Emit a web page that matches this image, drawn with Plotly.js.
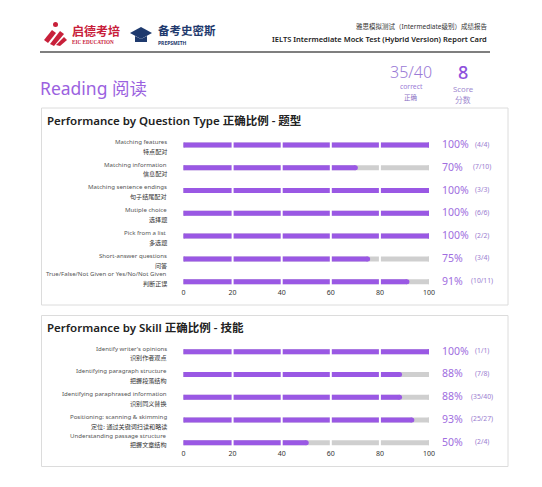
<!DOCTYPE html>
<html>
<head>
<meta charset="utf-8">
<script src="https://cdn.plot.ly/plotly-3.0.1.min.js"></script>
<style>
  html, body { margin: 0; padding: 0; background: #ffffff; }
  #chart { width: 542px; height: 487px; }
</style>
</head>
<body>
<div id="chart"></div>
<script>
// ---------------- DATA ----------------
const typeNamesEn = ["Matching features", "Matching information", "Matching sentence endings", "Mutiple choice", "Pick from a list", "Short-answer questions", "True/False/Not Given or Yes/No/Not Given"];
const typeNamesZh = ["特点配对", "信息配对", "句子结尾配对", "选择题", "多选题", "问答", "判断正误"];
const typePct = [100, 70, 100, 100, 100, 75, 91];
const typeCounts = ["(4/4)", "(7/10)", "(3/3)", "(6/6)", "(2/2)", "(3/4)", "(10/11)"];

const skillNamesEn = ["Identify writer's opinions", "Identifying paragraph structure", "Identifying paraphrased information", "Positioning: scanning & skimming", "Understanding passage structure"];
const skillNamesZh = ["识别作者观点", "把握段落结构", "识别同义替换", "定位: 通过关键词扫读和略读", "把握文章结构"];
const skillPct = [100, 88, 88, 93, 50];
const skillCounts = ["(1/1)", "(7/8)", "(35/40)", "(25/27)", "(2/4)"];

const xTicks = [0, 20, 40, 60, 80, 100];
const dividerTicks = [20, 40, 60, 80];
const correctText = "35/40";
const scoreText = "8";

// ---------------- LAYOUT HELPERS ----------------
const W = 542, H = 487;
const px = x => x / W;
const py = y => 1 - y / H;

const PURPLE = "#9a58e4";
const GRAY = "#cfcfcf";
const PCT_COLOR = "#a06ee0";
const CNT_COLOR = "#9a7dcf";
const FONT = "Noto Sans, Noto Sans CJK SC, sans-serif";

const xDomain = [px(183.5), px(429)];

function panel(idx, namesEn, namesZh, pct, counts, firstRowPx, rowStep, domTopPx, domBotPx) {
  const ya = idx === 1 ? "y" : "y" + idx;
  const xa = idx === 1 ? "x" : "x" + idx;
  const n = namesEn.length;
  const gx = [], gy = [], vx = [], vy = [];
  const cats = namesEn;
  for (let i = 0; i < n; i++) {
    gx.push(0, 100, null); gy.push(cats[i], cats[i], null);
    vx.push(0, pct[i], null); vy.push(cats[i], cats[i], null);
  }
  const traces = [
    { type: "scatter", mode: "lines+markers", x: gx, y: gy, xaxis: xa, yaxis: ya,
      line: { color: GRAY, width: 5 }, marker: { color: GRAY, size: 5 }, hoverinfo: "skip", showlegend: false },
    { type: "scatter", mode: "lines+markers", x: vx, y: vy, xaxis: xa, yaxis: ya,
      line: { color: PURPLE, width: 5 }, marker: { color: PURPLE, size: 5 }, hoverinfo: "skip", showlegend: false }
  ];
  const yBot = (n - 1) + (domBotPx - (firstRowPx + (n - 1) * rowStep)) / rowStep;
  const yTop = (domTopPx - firstRowPx) / rowStep;
  const yaxis = {
    domain: [py(domBotPx), py(domTopPx)], range: [yBot, yTop], type: "category",
    categoryarray: cats, categoryorder: "array",
    showticklabels: false, showgrid: false, zeroline: false, showline: false, anchor: xa, fixedrange: true
  };
  const xaxis = {
    domain: xDomain, range: [0, 100], tickvals: xTicks, ticktext: xTicks.map(String),
    showgrid: false, zeroline: false, showline: false, ticks: "", anchor: ya,
    tickfont: { size: 7, color: "#333", family: FONT }, fixedrange: true
  };
  const annotations = [];
  for (let i = 0; i < n; i++) {
    const last = i === n - 1;
    annotations.push({ xref: "paper", yref: ya, x: px(169), y: cats[i], xanchor: "right", yanchor: "middle",
      yshift: last ? 7.7 : 3.6, text: namesEn[i], showarrow: false, font: { size: 6.1, color: "#555", family: FONT } });
    annotations.push({ xref: "paper", yref: ya, x: px(169), y: cats[i], xanchor: "right", yanchor: "middle",
      yshift: last ? -2 : -6.2, text: namesZh[i], showarrow: false, font: { size: 6.1, color: "#333", family: FONT } });
    annotations.push({ xref: "paper", yref: ya, x: px(440), y: cats[i], xanchor: "left", yanchor: "middle",
      yshift: 1, text: pct[i] + "%", showarrow: false, font: { size: 10.5, color: PCT_COLOR, family: FONT } });
    annotations.push({ xref: "paper", yref: ya, x: px(482), y: cats[i], xanchor: "center", yanchor: "middle",
      yshift: 1, text: counts[i], showarrow: false, font: { size: 6.8, color: CNT_COLOR, family: FONT } });
  }
  const shapes = dividerTicks.map(t => ({
    type: "line", xref: xa, yref: "paper", x0: t, x1: t, y0: py(domBotPx), y1: py(domTopPx),
    line: { color: "#ffffff", width: 2 }, layer: "above"
  }));
  return { traces, xaxis, yaxis, annotations, shapes };
}

const p1 = panel(1, typeNamesEn, typeNamesZh, typePct, typeCounts, 145, 22.78, 133, 286.5);
const p2 = panel(2, skillNamesEn, skillNamesZh, skillPct, skillCounts, 351.7, 22.75, 340, 448);

// ---------------- STATIC PAGE DECOR ----------------
const decoShapes = [
  { type: "line", xref: "paper", yref: "paper", x0: px(40), x1: px(490), y0: py(52), y1: py(52), line: { color: "#555", width: 1.5 }, layer: "below" },
  { type: "rect", xref: "paper", yref: "paper", x0: px(41.5), x1: px(508), y0: py(305), y1: py(108), line: { color: "#dcdcdc", width: 1 }, layer: "below" },
  { type: "rect", xref: "paper", yref: "paper", x0: px(41.5), x1: px(508), y0: py(466.5), y1: py(315.5), line: { color: "#dcdcdc", width: 1 }, layer: "below" },
  { type: "path", xref: "paper", yref: "paper", path: `M ${px(44)} ${py(40)} L ${px(52)} ${py(30)} L ${px(56)} ${py(33)} L ${px(48)} ${py(43)} Z`, fillcolor: "#c8203a", line: { width: 0 } },
  { type: "path", xref: "paper", yref: "paper", path: `M ${px(50)} ${py(44)} L ${px(60)} ${py(31)} L ${px(64)} ${py(34)} L ${px(54)} ${py(46)} Z`, fillcolor: "#c8203a", line: { width: 0 } },
  { type: "path", xref: "paper", yref: "paper", path: `M ${px(56)} ${py(45)} L ${px(64)} ${py(37)} L ${px(67)} ${py(40)} L ${px(60)} ${py(46)} Z`, fillcolor: "#c8203a", line: { width: 0 } },
  { type: "circle", xref: "paper", yref: "paper", x0: px(53), x1: px(58), y0: py(27), y1: py(22), fillcolor: "#c8203a", line: { width: 0 } },
  { type: "path", xref: "paper", yref: "paper", path: `M ${px(130)} ${py(33)} L ${px(141)} ${py(27)} L ${px(152)} ${py(33)} L ${px(141)} ${py(39)} Z`, fillcolor: "#1f3a6e", line: { width: 0 } },
  { type: "path", xref: "paper", yref: "paper", path: `M ${px(135)} ${py(36)} L ${px(135)} ${py(42)} L ${px(147)} ${py(42)} L ${px(147)} ${py(36)} L ${px(141)} ${py(39)} Z`, fillcolor: "#1f3a6e", line: { width: 0 } }
];

const decoAnn = [
  { xref: "paper", yref: "paper", x: px(69.5), y: py(31), xanchor: "left", yanchor: "middle", text: "启德考培", showarrow: false, font: { size: 12, color: "#c8203a", family: FONT, weight: 700 } },
  { xref: "paper", yref: "paper", x: px(70), y: py(42), xanchor: "left", yanchor: "middle", text: "EIC EDUCATION", showarrow: false, font: { size: 5.2, color: "#c8203a", family: "Liberation Serif, serif", weight: 700 } },
  { xref: "paper", yref: "paper", x: px(155.5), y: py(30.5), xanchor: "left", yanchor: "middle", text: "备考史密斯", showarrow: false, font: { size: 11.5, color: "#1f3a6e", family: FONT, weight: 700 } },
  { xref: "paper", yref: "paper", x: px(156), y: py(42.5), xanchor: "left", yanchor: "middle", text: "PREPSMITH", showarrow: false, font: { size: 5, color: "#1f3a6e", family: FONT, weight: 700 } },
  { xref: "paper", yref: "paper", x: px(489), y: py(27), xanchor: "right", yanchor: "middle", text: "雅思模拟测试（Intermediate级别）成绩报告", showarrow: false, font: { size: 6.5, color: "#333", family: FONT } },
  { xref: "paper", yref: "paper", x: px(489), y: py(38.5), xanchor: "right", yanchor: "middle", text: "IELTS Intermediate Mock Test (Hybrid Version) Report Card", showarrow: false, font: { size: 7.5, color: "#222", family: FONT, weight: 600 } },
  { xref: "paper", yref: "paper", x: px(38), y: py(87.5), xanchor: "left", yanchor: "middle", text: "Reading 阅读", showarrow: false, font: { size: 17.5, color: "#9b62e0", family: FONT } },
  { xref: "paper", yref: "paper", x: px(411), y: py(72), xanchor: "center", yanchor: "middle", text: correctText, showarrow: false, font: { size: 16, color: "#9a7ad6", family: FONT, weight: 300 } },
  { xref: "paper", yref: "paper", x: px(411), y: py(86.5), xanchor: "center", yanchor: "middle", text: "correct", showarrow: false, font: { size: 6.8, color: "#9a7ad6", family: FONT } },
  { xref: "paper", yref: "paper", x: px(411), y: py(98), xanchor: "center", yanchor: "middle", text: "正确", showarrow: false, font: { size: 6.5, color: "#8a6fc4", family: FONT } },
  { xref: "paper", yref: "paper", x: px(462.5), y: py(72), xanchor: "center", yanchor: "middle", text: scoreText, showarrow: false, font: { size: 18, color: "#8e50dc", family: FONT, weight: 500 } },
  { xref: "paper", yref: "paper", x: px(462.5), y: py(88.5), xanchor: "center", yanchor: "middle", text: "Score", showarrow: false, font: { size: 7.8, color: "#a08ad0", family: FONT } },
  { xref: "paper", yref: "paper", x: px(462.5), y: py(99.5), xanchor: "center", yanchor: "middle", text: "分数", showarrow: false, font: { size: 7.8, color: "#a08ad0", family: FONT } },
  { xref: "paper", yref: "paper", x: px(44.5), y: py(120), xanchor: "left", yanchor: "middle", text: "Performance by Question Type 正确比例 - 题型", showarrow: false, font: { size: 11.5, color: "#222", family: FONT, weight: 600 } },
  { xref: "paper", yref: "paper", x: px(44.5), y: py(327), xanchor: "left", yanchor: "middle", text: "Performance by Skill 正确比例 - 技能", showarrow: false, font: { size: 11.5, color: "#222", family: FONT, weight: 600 } }
];

const layout = {
  width: W, height: H,
  margin: { l: 0, r: 0, t: 0, b: 0 },
  paper_bgcolor: "#ffffff", plot_bgcolor: "rgba(0,0,0,0)",
  showlegend: false,
  font: { family: FONT },
  xaxis: p1.xaxis, yaxis: p1.yaxis,
  xaxis2: p2.xaxis, yaxis2: p2.yaxis,
  annotations: decoAnn.concat(p1.annotations, p2.annotations),
  shapes: decoShapes.concat(p1.shapes, p2.shapes)
};

Plotly.newPlot("chart", p1.traces.concat(p2.traces), layout, { displayModeBar: false, staticPlot: true });
</script>
</body>
</html>
